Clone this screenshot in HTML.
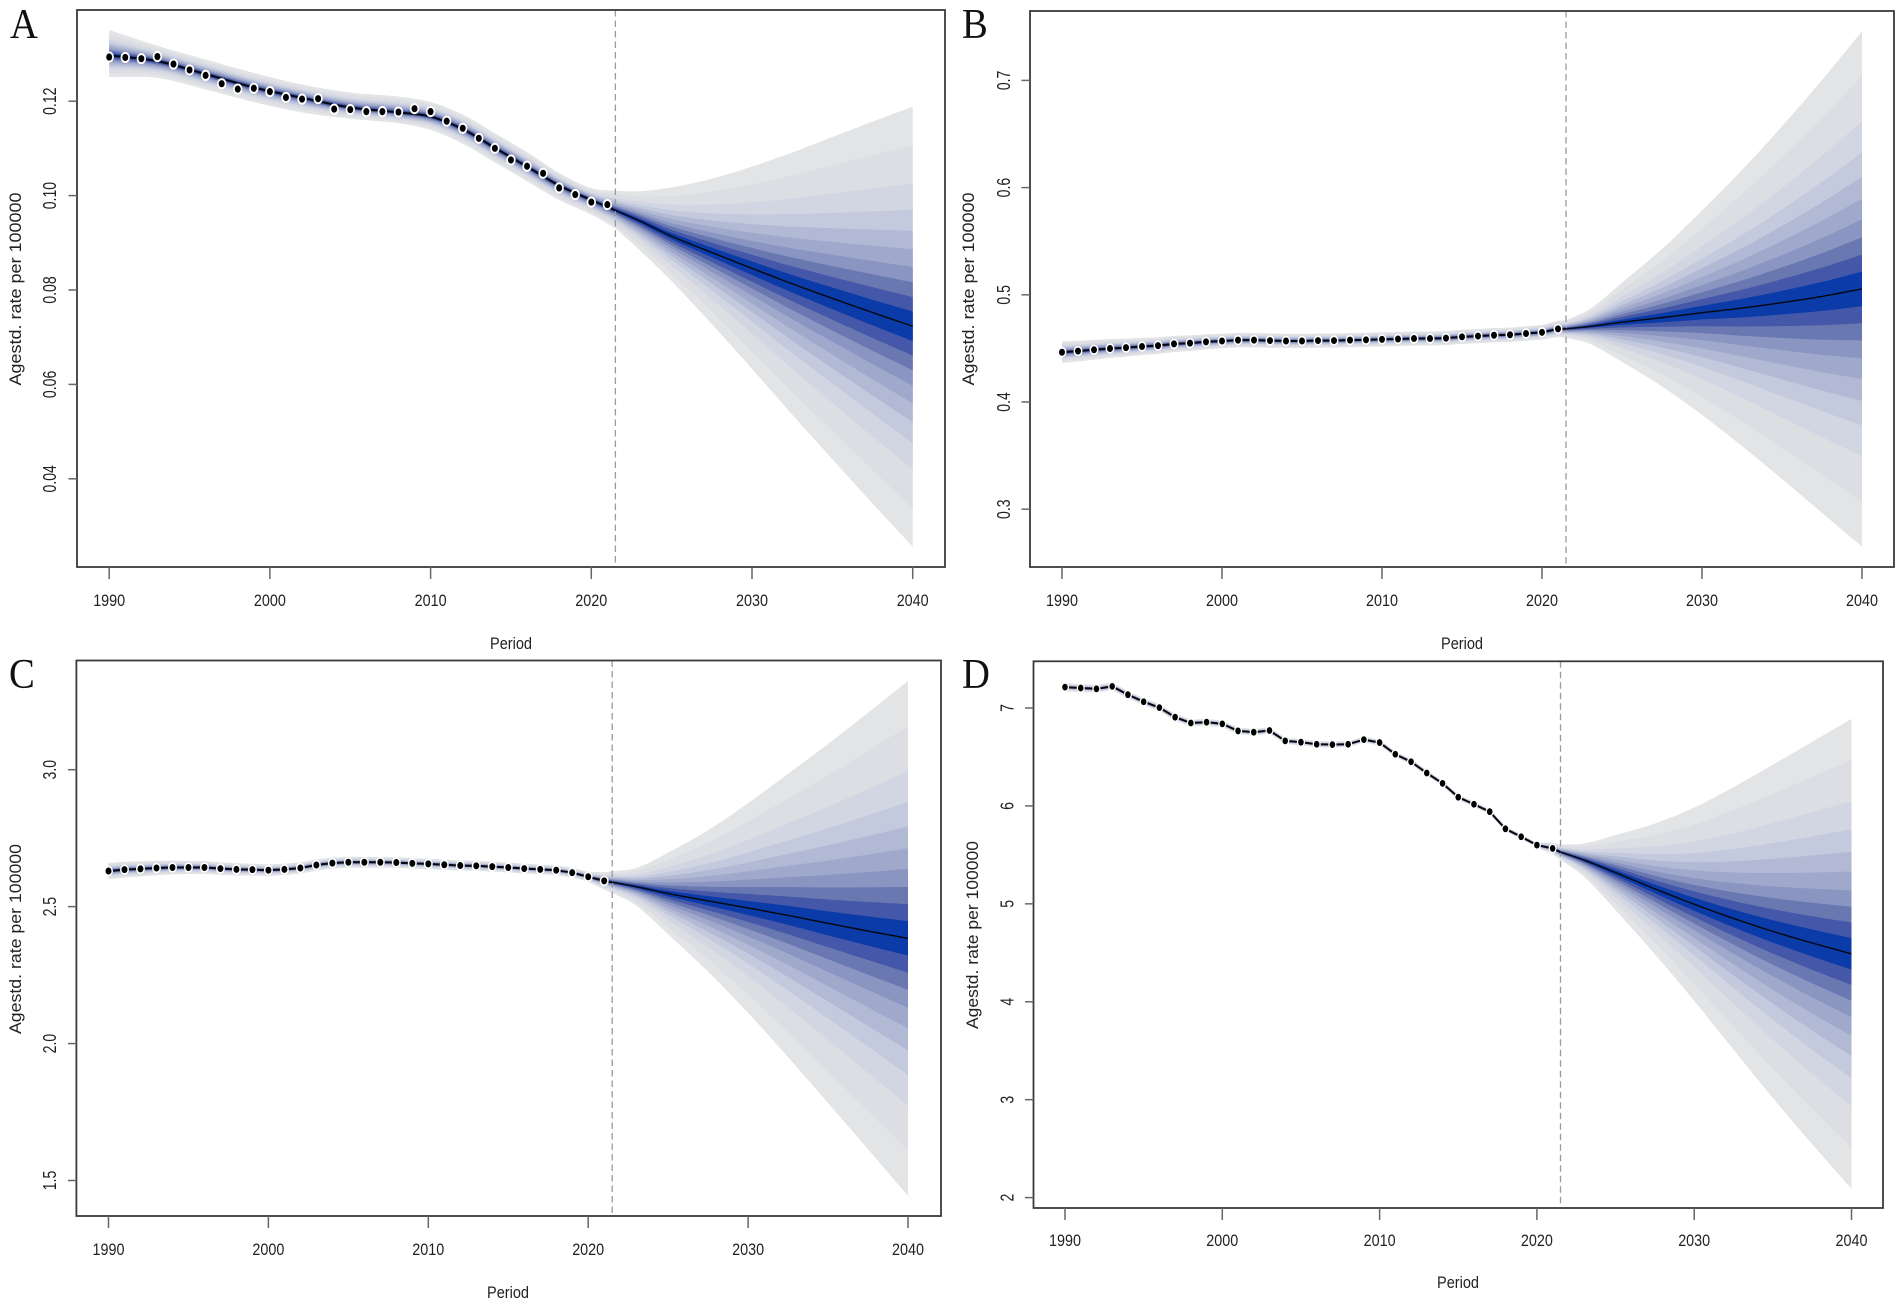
<!DOCTYPE html>
<html lang="en">
<head>
<meta charset="utf-8">
<title>Age-standardized rate projections, panels A to D</title>
<style>
  html, body { margin: 0; padding: 0; background: #fff; }
  svg { display: block; }
  text { font-family: "Liberation Sans", Arial, sans-serif; fill: #222; }
  .letter { font-family: "Liberation Serif", "Times New Roman", serif; fill: #111; }
</style>
</head>
<body>
<svg id="figure" xmlns="http://www.w3.org/2000/svg" width="1902" height="1306" viewBox="0 0 1902 1306"></svg>
<script>
// ---------- shared data ----------
const pointYears = [1990,1991,1992,1993,1994,1995,1996,1997,1998,1999,2000,2001,2002,2003,2004,2005,2006,2007,2008,2009,2010,2011,2012,2013,2014,2015,2016,2017,2018,2019,2020,2021];
const forecastYears = [2021.5,2023,2025,2027.5,2030,2032.5,2035,2037.5,2040];
const spreadYears = [1990,1995,2000,2005,2010,2015,2020,2021.5];
const xTickLabels = ["1990","2000","2010","2020","2030","2040"];
const fanLevels = [1,0.825,0.65,0.53,0.435,0.35,0.27,0.2,0.133,0.067];
const fanColors = ["#e3e4e6","#dcdee3","#d2d6e2","#c4cade","#b2b9d5","#a0a9cc","#8a95c2","#6a78b2","#4457a8","#0a3ba8"];

// ---------- panel A ----------
const panelAPoints = [0.12936,0.12927,0.12901,0.12945,0.12786,0.12662,0.12547,0.12371,0.12256,0.12274,0.12203,0.12079,0.12044,0.12053,0.11832,0.11823,0.11779,0.11779,0.11770,0.11841,0.11779,0.11576,0.11426,0.11214,0.11002,0.10755,0.10622,0.10472,0.10163,0.10022,0.09863,0.09810];
const panelAFitYears = [1990,1993,1996,1999,2002,2005,2008,2010,2012,2014,2016,2018,2020,2021.5];
const panelAFit = [0.12971,0.12848,0.12574,0.12291,0.12071,0.11868,0.11762,0.11673,0.11408,0.11011,0.10614,0.10216,0.09907,0.09687];
const panelASpreadUp = [0.00539,0.00326,0.00309,0.00309,0.00282,0.00317,0.00335,0.00309,0.00309,0.00309,0.00309,0.00265,0.00248,0.00415];
const panelASpreadDown = [0.00459,0.00354,0.00327,0.00309,0.00309,0.00239,0.00230,0.00282,0.00309,0.00309,0.00309,0.00309,0.00309,0.00380];
const panelAMean = [0.09687,0.09466,0.09139,0.08795,0.08459,0.08132,0.07823,0.07523,0.07232];
const panelAUpper = [0.10102,0.10093,0.10172,0.10358,0.10614,0.10914,0.11241,0.11567,0.11885];
const panelALower = [0.09307,0.08848,0.08185,0.07276,0.06331,0.05360,0.04415,0.03479,0.02561];
const panelATickValues = [0.04,0.06,0.08,0.10,0.12];
const panelATickLabels = ["0.04","0.06","0.08","0.10","0.12"];

// ---------- panel B ----------
const panelBPoints = [0.4464,0.4475,0.4487,0.4499,0.4507,0.4518,0.4526,0.4542,0.4549,0.4561,0.4569,0.4577,0.4577,0.4573,0.4569,0.4569,0.4573,0.4573,0.4577,0.4580,0.4584,0.4588,0.4592,0.4592,0.4596,0.4608,0.4615,0.4623,0.4627,0.4639,0.4650,0.4682];
const panelBSpreadUp = [0.0101,0.0080,0.0068,0.0066,0.0066,0.0066,0.0068,0.0081];
const panelBSpreadDown = [0.0101,0.0080,0.0068,0.0066,0.0066,0.0066,0.0068,0.0082];
const panelBMean = [0.4682,0.4705,0.4744,0.4787,0.4833,0.4876,0.4927,0.4985,0.5055];
const panelBUpper = [0.4763,0.4868,0.5113,0.5428,0.5786,0.6164,0.6572,0.7004,0.7459];
const panelBLower = [0.4600,0.4542,0.4374,0.4145,0.3880,0.3588,0.3281,0.2966,0.2651];
const panelBTickValues = [0.3,0.4,0.5,0.6,0.7];
const panelBTickLabels = ["0.3","0.4","0.5","0.6","0.7"];

// ---------- panel C ----------
const panelCPoints = [2.630,2.635,2.638,2.641,2.643,2.643,2.643,2.639,2.636,2.635,2.633,2.636,2.641,2.652,2.659,2.662,2.662,2.662,2.661,2.658,2.656,2.653,2.650,2.649,2.646,2.643,2.639,2.636,2.633,2.624,2.609,2.594];
const panelCSpreadUp = [0.030,0.024,0.021,0.020,0.019,0.018,0.018,0.040];
const panelCSpreadDown = [0.030,0.024,0.021,0.020,0.019,0.018,0.018,0.039];
const panelCMean = [2.589,2.573,2.548,2.521,2.495,2.468,2.439,2.411,2.384];
const panelCUpper = [2.629,2.641,2.697,2.779,2.878,2.985,3.094,3.208,3.324];
const panelCLower = [2.550,2.504,2.399,2.262,2.112,1.950,1.783,1.614,1.444];
const panelCTickValues = [1.5,2.0,2.5,3.0];
const panelCTickLabels = ["1.5","2.0","2.5","3.0"];

// ---------- panel D ----------
const panelDPoints = [7.213,7.204,7.196,7.221,7.136,7.064,7.004,6.906,6.847,6.855,6.838,6.766,6.753,6.770,6.664,6.651,6.630,6.626,6.630,6.677,6.647,6.528,6.451,6.336,6.230,6.089,6.017,5.941,5.766,5.685,5.600,5.566];
const panelDSpreadUp = [0.042,0.036,0.034,0.032,0.030,0.028,0.026,0.076];
const panelDSpreadDown = [0.042,0.036,0.034,0.032,0.030,0.028,0.026,0.077];
const panelDMean = [5.528,5.447,5.319,5.153,4.996,4.851,4.719,4.600,4.490];
const panelDUpper = [5.604,5.617,5.702,5.821,5.983,6.192,6.421,6.655,6.889];
const panelDLower = [5.451,5.277,4.936,4.485,4.009,3.511,3.017,2.545,2.090];
const panelDTickValues = [2,3,4,5,6,7];
const panelDTickLabels = ["2","3","4","5","6","7"];

// ---------- layout ----------
const panels = [
  { id:"a", letter:"A", letterLen:27.9, lx:10, ly:38, box:[77,10,945,567], x0:109.2, x1:912.7, yA:[0.12,101.2], yB:[0.04,478.8],
    points:panelAPoints, fitYears:panelAFitYears, fit:panelAFit, smoothFit:true, spreadYears:panelAFitYears,
    up:panelASpreadUp, down:panelASpreadDown, mean:panelAMean, upper:panelAUpper, lower:panelALower,
    ticks:panelATickValues, tickLabels:panelATickLabels, tickLabelX:56, titleX:21, titleY:289, titleLen:193,
    periodX:511, periodY:649, xLabelY:606, rx:4.7, ry:5.6, bx:3, by:3.6 },
  { id:"b", letter:"B", letterLen:25.8, lx:962, ly:38, box:[1030,11,1894,567], x0:1062, x1:1862, yA:[0.7,80.4], yB:[0.3,509.2],
    points:panelBPoints, smoothFit:false, spreadYears:spreadYears,
    up:panelBSpreadUp, down:panelBSpreadDown, mean:panelBMean, upper:panelBUpper, lower:panelBLower,
    ticks:panelBTickValues, tickLabels:panelBTickLabels, tickLabelX:1010, titleX:974, titleY:289, titleLen:193,
    periodX:1462, periodY:649, xLabelY:606, rx:4.5, ry:5.2, bx:3, by:3.5 },
  { id:"c", letter:"C", letterLen:25.8, lx:9, ly:688, box:[76.4,660.5,941,1216], x0:108.5, x1:908, yA:[3.0,769.7], yB:[1.5,1180.5],
    points:panelCPoints, smoothFit:false, spreadYears:spreadYears,
    up:panelCSpreadUp, down:panelCSpreadDown, mean:panelCMean, upper:panelCUpper, lower:panelCLower,
    ticks:panelCTickValues, tickLabels:panelCTickLabels, tickLabelX:56, titleX:21, titleY:939, titleLen:190,
    periodX:508, periodY:1298, xLabelY:1255, rx:4.5, ry:5.2, bx:3, by:3.5 },
  { id:"d", letter:"D", letterLen:27.9, lx:962, ly:688, box:[1033.5,661.3,1883,1208], x0:1065, x1:1851.5, yA:[7,708], yB:[2,1197.6],
    points:panelDPoints, smoothFit:false, spreadYears:spreadYears,
    up:panelDSpreadUp, down:panelDSpreadDown, mean:panelDMean, upper:panelDUpper, lower:panelDLower,
    ticks:panelDTickValues, tickLabels:panelDTickLabels, tickLabelX:1013.5, titleX:978, titleY:935, titleLen:188,
    periodX:1458, periodY:1288, xLabelY:1246, rx:4.1, ry:4.8, bx:2.8, by:3.4 }
];

const SVG_NS = "http://www.w3.org/2000/svg";
const figure = document.getElementById("figure");

function make(tag, attrs, parent) {
  const node = document.createElementNS(SVG_NS, tag);
  for (const key in attrs) node.setAttribute(key, attrs[key]);
  parent.appendChild(node);
  return node;
}

// Piecewise-linear evaluation between read values.
function linear(xs, ys, t) {
  if (t <= xs[0]) return ys[0];
  const last = xs.length - 1;
  if (t >= xs[last]) return ys[last];
  let i = 0;
  while (t > xs[i + 1]) i++;
  const u = (t - xs[i]) / (xs[i + 1] - xs[i]);
  return ys[i] + (ys[i + 1] - ys[i]) * u;
}

// Cubic Hermite evaluation between read values, for smooth drawn curves.
function smooth(xs, ys, t) {
  if (t <= xs[0]) return ys[0];
  const last = xs.length - 1;
  if (t >= xs[last]) return ys[last];
  let i = 0;
  while (t > xs[i + 1]) i++;
  const slope = function (j) {
    const a = Math.max(j - 1, 0);
    const b = Math.min(j + 1, last);
    return (ys[b] - ys[a]) / (xs[b] - xs[a]);
  };
  const h = xs[i + 1] - xs[i];
  const u = (t - xs[i]) / h;
  const u2 = u * u;
  const u3 = u2 * u;
  return (2 * u3 - 3 * u2 + 1) * ys[i] + (u3 - 2 * u2 + u) * h * slope(i) +
         (-2 * u3 + 3 * u2) * ys[i + 1] + (u3 - u2) * h * slope(i + 1);
}

function drawPanel(p) {
  const xScale = function (year) { return p.x0 + (year - 1990) * (p.x1 - p.x0) / 50; };
  const yScale = function (value) {
    return p.yA[1] + (value - p.yA[0]) * (p.yB[1] - p.yA[1]) / (p.yB[0] - p.yA[0]);
  };

  const fitYears = p.fitYears || pointYears.concat([2021.5]);
  const fitValues = p.fit || p.points.concat([p.mean[0]]);
  const evalFit = p.smoothFit ? smooth : linear;
  const evalSpread = p.smoothFit ? smooth : linear;

  const centre = function (t) {
    return t <= 2021.5 ? evalFit(fitYears, fitValues, t) : smooth(forecastYears, p.mean, t);
  };
  const bound = function (t, level, sign) {
    if (t <= 2021.5) {
      const spread = evalSpread(p.spreadYears, sign > 0 ? p.up : p.down, t);
      return evalFit(fitYears, fitValues, t) + sign * spread * level;
    }
    const outer = smooth(forecastYears, sign > 0 ? p.upper : p.lower, t);
    const middle = smooth(forecastYears, p.mean, t);
    return middle + (outer - middle) * level;
  };

  const group = make("g", {}, figure);
  
  

  const samples = [];
  for (let t = 1990; t <= 2040.001; t += 0.25) samples.push(t);

  // Fan bands, outermost first.
  const fan = make("g", {}, group);
  
  
  fanLevels.forEach(function (level, k) {
    const top = samples.map(function (t) { return xScale(t).toFixed(2) + "," + yScale(bound(t, level, 1)).toFixed(2); });
    const bottom = samples.slice().reverse().map(function (t) { return xScale(t).toFixed(2) + "," + yScale(bound(t, level, -1)).toFixed(2); });
    const band = make("polygon", { points: top.concat(bottom).join(" "), fill: fanColors[k] }, fan);
    
    
  });

  // Dashed divider between observation and forecast.
  const divider = make("line", { x1: xScale(2021.5), x2: xScale(2021.5), y1: p.box[1], y2: p.box[3], stroke: "#9a9a9a", "stroke-width": 1.3, "stroke-dasharray": "6.5 4" }, group);
  
  

  // Fitted line over the observed period.
  const fittedPts = samples.filter(function (t) { return t <= 2021.5; }).map(function (t) { return xScale(t).toFixed(2) + "," + yScale(centre(t)).toFixed(2); });
  const fittedLine = make("polyline", { points: fittedPts.join(" "), fill: "none", stroke: "#05070f", "stroke-width": 2 }, group);
  
  

  // Projected central line.
  const projectedPts = samples.filter(function (t) { return t >= 2021.5; }).map(function (t) { return xScale(t).toFixed(2) + "," + yScale(centre(t)).toFixed(2); });
  const projectedLine = make("polyline", { points: projectedPts.join(" "), fill: "none", stroke: "#05070f", "stroke-width": 1.4 }, group);
  
  

  // Observed points: white ring plus black core.
  const dots = make("g", {}, group);
  
  
  p.points.forEach(function (value, i) {
    const cx = xScale(pointYears[i]);
    const cy = yScale(value);
    const ring = make("ellipse", { cx: cx, cy: cy, rx: p.rx, ry: p.ry, fill: "#fff" }, dots);
    
    
    const dot = make("ellipse", { cx: cx, cy: cy, rx: p.bx, ry: p.by, fill: "#000" }, dots);
    
    
  });

  // Plot frame.
  const frame = make("rect", { x: p.box[0], y: p.box[1], width: p.box[2] - p.box[0], height: p.box[3] - p.box[1], fill: "none", stroke: "#3a3a3a", "stroke-width": 1.8 }, group);
  
  

  // X axis.
  const xAxis = make("g", {}, group);
  
  
  xTickLabels.forEach(function (label) {
    const x = xScale(Number(label));
    const tick = make("line", { x1: x, x2: x, y1: p.box[3], y2: p.box[3] + 12, stroke: "#666", "stroke-width": 1.5 }, xAxis);
    
    
    const text = make("text", { x: x, y: p.xLabelY, "font-size": 17, "text-anchor": "middle", textLength: 32, lengthAdjust: "spacingAndGlyphs" }, xAxis);
    text.textContent = label;
    
    
  });
  const xTitle = make("text", { x: p.periodX, y: p.periodY, "font-size": 17, "text-anchor": "middle", textLength: 42, lengthAdjust: "spacingAndGlyphs" }, xAxis);
  xTitle.textContent = "Period";
  
  

  // Y axis.
  const yAxis = make("g", {}, group);
  
  
  p.ticks.forEach(function (value, i) {
    const y = yScale(value);
    const tick = make("line", { x1: p.box[0] - 8.5, x2: p.box[0], y1: y, y2: y, stroke: "#666", "stroke-width": 1.5 }, yAxis);
    
    
    const text = make("text", { "font-size": 18.5, "text-anchor": "middle", transform: "translate(" + p.tickLabelX + " " + y + ") rotate(-90) scale(0.76 1)" }, yAxis);
    text.textContent = p.tickLabels[i];
    
    
  });
  const yTitle = make("text", { "font-size": 16.5, "text-anchor": "middle", textLength: p.titleLen, lengthAdjust: "spacingAndGlyphs", transform: "translate(" + p.titleX + " " + p.titleY + ") rotate(-90)" }, yAxis);
  yTitle.textContent = "Agestd. rate per 100000";
  
  

  // Panel letter.
  const letter = make("text", { x: p.lx, y: p.ly, "font-size": 42, class: "letter", textLength: p.letterLen, lengthAdjust: "spacingAndGlyphs" }, group);
  letter.textContent = p.letter;
  
  
}

panels.forEach(drawPanel);
</script>
</body>
</html>
